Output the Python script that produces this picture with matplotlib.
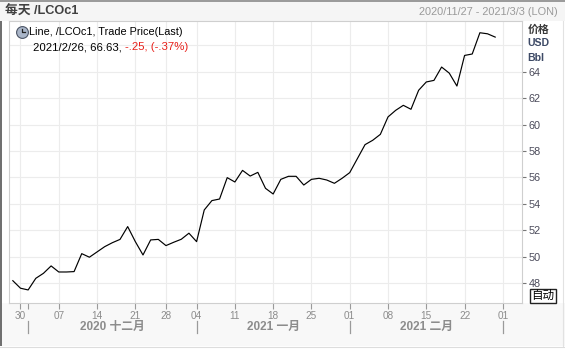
import matplotlib
matplotlib.use("Agg")
import matplotlib.pyplot as plt
import matplotlib.transforms as mtransforms
from matplotlib.patches import Rectangle
from matplotlib.lines import Line2D
import pandas as pd

plt.rcParams['font.family'] = ['Liberation Sans', 'Noto Sans CJK SC']

# trading days shown on the axis (ICE holidays removed)
start_day = "2020-11-27"
end_day = "2021-03-03"
holidays = ["2020-12-25", "2021-01-01"]

# LCOc1 last trade price, one value per trading day from 2020-11-27 to 2021-02-26
prices = [48.17, 47.60, 47.47, 48.35, 48.73, 49.29, 48.83, 48.83, 48.86, 50.22,
          49.95, 50.35, 50.75, 51.05, 51.30, 52.27, 51.13, 50.12, 51.26, 51.30,
          50.83, 51.08, 51.31, 51.77, 51.13, 53.53, 54.24, 54.36, 55.98, 55.65,
          56.53, 56.10, 56.38, 55.17, 54.74, 55.85, 56.08, 56.08, 55.42, 55.85,
          55.93, 55.80, 55.55, 55.93, 56.36, 57.42, 58.48, 58.81, 59.26, 60.58,
          61.08, 61.46, 61.16, 62.60, 63.23, 63.35, 64.36, 63.90, 62.92, 65.24,
          65.35, 66.96, 66.88, 66.63]

y_ticks = [48, 50, 52, 54, 56, 58, 60, 62, 64]
y_grid_extra = [66]
cn_months = ["一月", "二月", "三月", "四月", "五月", "六月",
             "七月", "八月", "九月", "十月", "十一月", "十二月"]

days = pd.bdate_range(start_day, end_day)
days = days[~days.isin(pd.to_datetime(holidays))]
x = list(range(len(prices)))

W, H = 565, 352


def fx(px):
    return px / W


def fy(py):
    return 1 - py / H


fig = plt.figure(figsize=(W / 100, H / 100), dpi=100)
fig.patch.set_facecolor("white")

# background bands
fig.add_artist(Rectangle((0, fy(21)), 1, 21 / H, transform=fig.transFigure,
                         fc="#f5f5f5", ec="none", zorder=0))
fig.add_artist(Rectangle((0, fy(346)), 1, (346 - 303) / H, transform=fig.transFigure,
                         fc="#f8f8f8", ec="none", zorder=0))
fig.add_artist(Rectangle((0, fy(346)), 2 / W, (346 - 21) / H, transform=fig.transFigure,
                         fc="#707070", ec="none", zorder=3))
fig.add_artist(Line2D([0, 1], [fy(0.7), fy(0.7)], transform=fig.transFigure,
                      color="#8a8a8a", lw=1.2, zorder=3))
fig.add_artist(Line2D([0, 1], [fy(346.5), fy(346.5)], transform=fig.transFigure,
                      color="#dddddd", lw=0.8, zorder=3))
fig.add_artist(Line2D([fx(562.5), fx(562.5)], [fy(21), fy(346)], transform=fig.transFigure,
                      color="#e2e2e2", lw=0.8, zorder=3))

ax = fig.add_axes([fx(9), fy(303), (522 - 9) / W, (303 - 21) / H])
ax.set_facecolor("white")
ax.plot(x, prices, color="black", lw=0.85, zorder=3)

ax.set_xlim(-0.5, len(days) - 0.5)
ax.set_ylim(46.48, 67.85)

# y axis on the right
ax.yaxis.tick_right()
ax.set_yticks(y_ticks)
ax.set_yticklabels([str(v) for v in y_ticks])
ax.set_yticks(y_grid_extra, minor=True)
ax.tick_params(axis="y", which="major", length=3, width=0.8, color="#777777",
               pad=2, labelsize=7.8, labelcolor="#4a4a5a")
ax.tick_params(axis="y", which="minor", length=0)

# weekly ticks on Mondays, month separators
mondays = [i for i, d in enumerate(days) if d.weekday() == 0]
month_starts = [i for i in range(1, len(days)) if days[i].month != days[i - 1].month]
ax.set_xticks(mondays)
ax.set_xticklabels([days[i].strftime("%d") for i in mondays])
ax.set_xticks([i for i in month_starts if i not in mondays], minor=True)
ax.tick_params(axis="x", which="both", length=4, width=0.8, color="#9a9a9a",
               pad=2, labelsize=7.2, labelcolor="#8c8c8c")

ax.grid(True, which="major", color="#ececec", lw=0.8, zorder=0)
ax.grid(True, which="minor", axis="y", color="#ececec", lw=0.8, zorder=0)
for s in ax.spines.values():
    s.set_color("#cfcfcf")
    s.set_linewidth(0.8)

# month row under the axis
tr = mtransforms.blended_transform_factory(ax.transData, fig.transFigure)
for i in month_starts:
    fig.add_artist(Line2D([i, i], [fy(321), fy(333)], transform=tr,
                          color="#9a9a9a", lw=0.9))
for a, b in zip(month_starts[:-1], month_starts[1:]):
    d = days[a]
    fig.text((a + b) / 2, fy(327), f"{d.year} {cn_months[d.month - 1]}",
             transform=tr, ha="center", va="center", fontsize=8.5,
             fontweight="bold", color="#8c8c8c")

# header
fig.text(fx(5), fy(12), "每天 /LCOc1", ha="left", va="center", fontsize=9.2,
         fontweight="bold", color="#404040")
fig.text(fx(558), fy(12),
         f"{days[0].year}/{days[0].month}/{days[0].day} - {days[-1].year}/{days[-1].month}/{days[-1].day} (LON)",
         ha="right", va="center", fontsize=7.9, color="#9a9a9a")

# legend
fig.add_artist(Line2D([fx(22)], [fy(32)], marker="o", ms=8.5, mfc="#a9b5c8",
                      mec="#4c5566", mew=0.8, transform=fig.transFigure))
fig.add_artist(Line2D([fx(22), fx(22), fx(25)], [fy(28.5), fy(32), fy(32)],
                      color="#202020", lw=0.9, transform=fig.transFigure))
fig.text(fx(29), fy(32), "Line, /LCOc1, Trade Price(Last)", ha="left", va="center",
         fontsize=7.8, color="black")
last_day = days[len(prices) - 1]
chg = prices[-1] - prices[-2]
pct = chg / prices[-2] * 100
t1 = fig.text(fx(33), fy(47), f"{last_day.year}/{last_day.month}/{last_day.day}, {prices[-1]:.2f}, ",
              ha="left", va="center", fontsize=8.2, color="black")
chg_s = f"{chg:.2f}".replace("0.", ".")
pct_s = f"{pct:.2f}".replace("0.", ".")
red = fig.text(0, 0, f"{chg_s}, ({pct_s}%)", fontsize=8.2, color="#e8201a",
               ha="left", va="bottom")
fig.canvas.draw()
bb = t1.get_window_extent()
red.set_transform(mtransforms.IdentityTransform())
red.set_position((bb.x1, bb.y0))

# right axis header
fig.text(fx(527.5), fy(30), "价格", ha="left", va="center", fontsize=7.8,
         fontweight="bold", color="#3a3a3a")
fig.text(fx(527), fy(43.5), "USD", ha="left", va="center", fontsize=7.6,
         fontweight="bold", color="#3d4a66")
fig.text(fx(527), fy(58), "Bbl", ha="left", va="center", fontsize=7.6,
         fontweight="bold", color="#3d4a66")

# auto button
fig.text(fx(543), fy(296), "自动", ha="center", va="center", fontsize=8.3,
         color="black",
         bbox=dict(boxstyle="square,pad=0.1", fc="white", ec="#222222", lw=1.0))

fig.savefig("out.png", dpi=100)
